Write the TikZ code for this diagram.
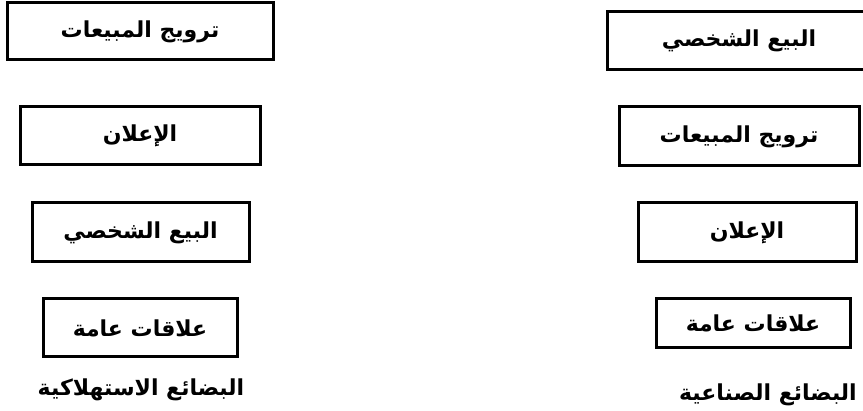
\documentclass[tikz,border=0pt]{standalone}
\usepackage{fontspec}
\newfontfamily\arabicfont[Script=Arabic]{DejaVu Sans}
\TeXXeTstate=1
\tikzset{
  abox/.style={draw=black, line width=3pt, fill=white, inner sep=0pt,
    font=\arabicfont\bfseries\fontsize{22}{26}\selectfont},
  alabel/.style={inner sep=0pt, font=\arabicfont\bfseries\fontsize{22}{26}\selectfont}
}
\begin{document}
\begin{tikzpicture}[x=1pt,y=1pt]
\clip (0,0) rectangle (863,411);
\fill[white] (0,0) rectangle (863,411);
% left column
\node[abox, minimum width=266pt, minimum height=57pt] (l1) at (140,{411-31.5}) {\beginR ترويج المبيعات\endR};
\node[abox, minimum width=240pt, minimum height=58pt] (l2) at (140,{411-136}) {\beginR الإعلان\endR};
\node[abox, minimum width=217pt, minimum height=59pt] (l3) at (140.5,{411-232.5}) {\beginR البيع الشخصي\endR};
\node[abox, minimum width=194pt, minimum height=58pt] (l4) at (140,{411-328}) {\beginR علاقات عامة\endR};
\node[alabel] (ll) at (141,{411-390}) {\beginR البضائع الاستهلاكية\endR};
% right column
\node[abox, minimum width=264pt, minimum height=58pt] (r1) at (739,{411-41}) {\beginR البيع الشخصي\endR};
\node[abox, minimum width=240pt, minimum height=59pt] (r2) at (739,{411-136.5}) {\beginR ترويج المبيعات\endR};
\node[abox, minimum width=218pt, minimum height=59pt] (r3) at (747,{411-232.5}) {\beginR الإعلان\endR};
\node[abox, minimum width=194pt, minimum height=49pt] (r4) at (753,{411-323.5}) {\beginR علاقات عامة\endR};
\node[alabel] (rl) at (768,{411-395}) {\beginR البضائع الصناعية\endR};
\end{tikzpicture}
\end{document}
